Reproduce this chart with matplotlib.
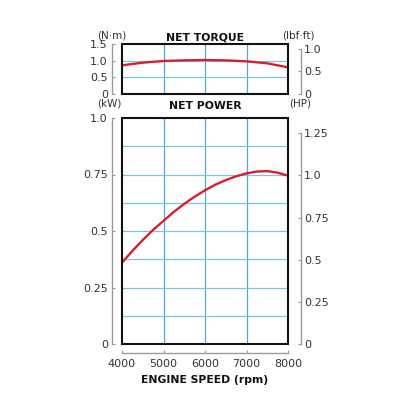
import matplotlib.pyplot as plt
from matplotlib.patches import Rectangle

# engine speed (rpm)
rpm_torque = [4000, 4500, 5000, 5500, 6000, 6500, 7000, 7500, 8000]
torque_nm = [0.86, 0.94, 0.99, 1.01, 1.02, 1.01, 0.98, 0.92, 0.80]

rpm_power = [4000, 4250, 4500, 4750, 5000, 5250, 5500, 5750, 6000, 6250,
             6500, 6750, 7000, 7250, 7500, 7750, 8000]
power_kw = [0.36, 0.412, 0.46, 0.505, 0.545, 0.585, 0.62, 0.652, 0.68, 0.705,
            0.725, 0.742, 0.755, 0.763, 0.765, 0.758, 0.745]

x_ticks = [4000, 5000, 6000, 7000, 8000]
nm_ticks = [0, 0.5, 1.0, 1.5]
nm_labels = ["0", "0.5", "1.0", "1.5"]
lbf_ticks = [0, 0.5, 1.0]
lbf_labels = ["0", "0.5", "1.0"]
kw_ticks = [0, 0.25, 0.5, 0.75, 1.0]
kw_labels = ["0", "0.25", "0.5", "0.75", "1.0"]
hp_ticks = [0, 0.25, 0.5, 0.75, 1.0, 1.25]
hp_labels = ["0", "0.25", "0.5", "0.75", "1.0", "1.25"]
kw_grid = [0.125, 0.25, 0.375, 0.5, 0.625, 0.75, 0.875]
nm_grid = [0.5, 1.0]

NM_TO_LBF = 0.7376
KW_TO_HP = 1.341

RED = "#d7202f"
VGRID = "#4fa9cc"
HGRID = "#7fc2dc"
SPINE = "#9a9a9a"
TXT = "#333333"

fig = plt.figure(figsize=(4.16, 4.16), dpi=100)
W = 416.0


def setup(ax, ylim, yticks, ylabels, hgrid, show_x):
    ax.set_xlim(4000, 8000)
    ax.set_ylim(*ylim)
    for x in x_ticks[1:-1]:
        ax.axvline(x, color=VGRID, lw=0.9, zorder=1)
    for y in hgrid:
        ax.axhline(y, color=HGRID, lw=0.9, zorder=1)
    ax.add_patch(Rectangle((0, 0), 1, 1, transform=ax.transAxes, fill=False,
                           ec="#111111", lw=1.5, zorder=5, clip_on=False))
    ax.spines["top"].set_visible(False)
    ax.spines["right"].set_visible(False)
    ax.spines["left"].set_position(("outward", 7.2))
    ax.spines["left"].set_color(SPINE)
    ax.spines["left"].set_linewidth(1.0)
    ax.set_yticks(yticks)
    ax.set_yticklabels(ylabels)
    ax.tick_params(axis="y", direction="in", length=2.5, width=0.8,
                   color=SPINE, labelcolor=TXT, labelsize=8, pad=3)
    if show_x:
        ax.spines["bottom"].set_position(("outward", 6.5))
        ax.spines["bottom"].set_color(SPINE)
        ax.spines["bottom"].set_linewidth(1.0)
        ax.set_xticks(x_ticks)
        ax.tick_params(axis="x", direction="in", length=2.5, width=0.8,
                       color=SPINE, labelcolor=TXT, labelsize=8, pad=4)
    else:
        ax.spines["bottom"].set_visible(False)
        ax.set_xticks([])


def right_axis(ax, ylim, ticks, labels):
    r = ax.twinx()
    r.set_ylim(*ylim)
    for s in ["top", "left", "bottom"]:
        r.spines[s].set_visible(False)
    r.spines["right"].set_position(("outward", 9.4))
    r.spines["right"].set_color(SPINE)
    r.spines["right"].set_linewidth(1.0)
    r.spines["right"].set_bounds(ticks[0], ticks[-1])
    r.set_yticks(ticks)
    r.set_yticklabels(labels)
    r.tick_params(axis="y", direction="in", length=2.5, width=0.8,
                  color=SPINE, labelcolor=TXT, labelsize=8, pad=2)
    return r


# torque panel
ax1 = fig.add_axes([122 / W, 1 - 94 / W, 166 / W, 50 / W])
setup(ax1, (0, 1.5), nm_ticks, nm_labels, nm_grid, False)
ax1.plot(rpm_torque, torque_nm, color=RED, lw=1.7, zorder=3)
right_axis(ax1, (0, 1.5 * NM_TO_LBF), lbf_ticks, lbf_labels)

# power panel
ax2 = fig.add_axes([122 / W, 1 - 344 / W, 166 / W, 226 / W])
setup(ax2, (0, 1.0), kw_ticks, kw_labels, kw_grid, True)
ax2.plot(rpm_power, power_kw, color=RED, lw=1.7, zorder=3)
right_axis(ax2, (0, 1.0 * KW_TO_HP), hp_ticks, hp_labels)

# titles and unit labels
fig.text(205 / W, 1 - 37 / W, "NET TORQUE", ha="center", va="center",
         fontsize=7.8, fontweight="bold", color="#111111")
fig.text(205 / W, 1 - 106 / W, "NET POWER", ha="center", va="center",
         fontsize=7.8, fontweight="bold", color="#111111")
fig.text(112 / W, 1 - 36 / W, "(N·m)", ha="center", va="center",
         fontsize=7.5, color=TXT)
fig.text(298 / W, 1 - 36 / W, "(lbf·ft)", ha="center", va="center",
         fontsize=7.5, color=TXT)
fig.text(109 / W, 1 - 104 / W, "(kW)", ha="center", va="center",
         fontsize=7.5, color=TXT)
fig.text(300 / W, 1 - 104 / W, "(HP)", ha="center", va="center",
         fontsize=7.5, color=TXT)
fig.text(205 / W, 1 - 380 / W, "ENGINE SPEED (rpm)", ha="center", va="center",
         fontsize=7.8, fontweight="bold", color="#111111")

fig.savefig("out.png", dpi=100, facecolor="white")
